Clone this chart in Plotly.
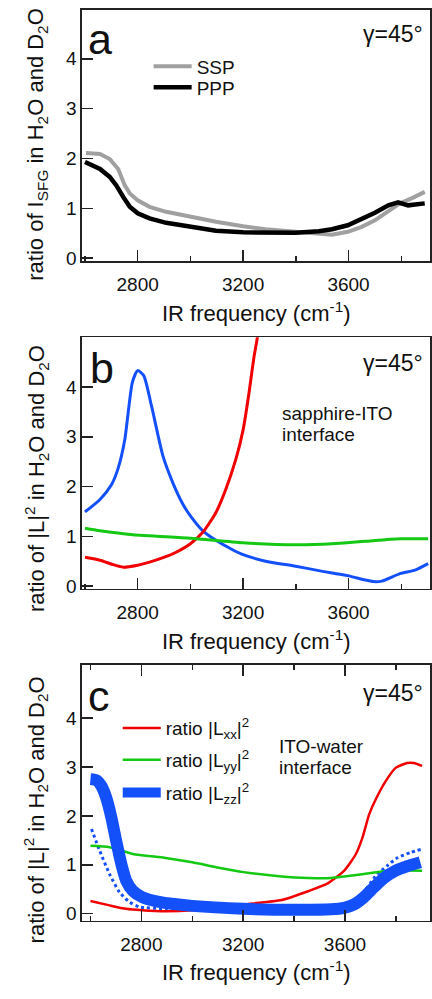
import plotly.graph_objects as go

# ---------------- data ----------------
# panel a: SFG intensity ratio
ssp_x = [2604, 2657, 2694, 2726, 2751, 2770, 2800, 2845, 2908, 3000, 3097, 3200, 3285, 3399, 3487, 3537, 3597, 3650, 3700, 3751, 3795, 3839, 3877, 3889]
ssp_y = [2.11, 2.09, 1.99, 1.79, 1.46, 1.30, 1.16, 1.03, 0.93, 0.83, 0.73, 0.64, 0.58, 0.53, 0.48, 0.47, 0.53, 0.63, 0.76, 0.93, 1.10, 1.20, 1.31, 1.33]
ppp_x = [2600, 2619, 2657, 2694, 2719, 2745, 2770, 2800, 2845, 2908, 3000, 3097, 3200, 3285, 3399, 3487, 3537, 3597, 3650, 3700, 3751, 3788, 3826, 3864, 3889]
ppp_y = [1.93, 1.89, 1.79, 1.63, 1.46, 1.23, 1.03, 0.90, 0.80, 0.71, 0.63, 0.55, 0.52, 0.51, 0.51, 0.54, 0.58, 0.66, 0.78, 0.91, 1.06, 1.12, 1.06, 1.08, 1.10]

# panel b: sapphire-ITO interface
b_blue_x = [2600, 2657, 2701, 2726, 2751, 2780, 2800, 2823, 2852, 2896, 2933, 2971, 3000, 3047, 3097, 3160, 3200, 3285, 3399, 3487, 3597, 3663, 3694, 3726, 3795, 3852, 3902]
b_blue_y = [1.49, 1.74, 2.04, 2.37, 2.94, 4.10, 4.33, 4.23, 3.63, 2.61, 2.08, 1.65, 1.41, 1.11, 0.92, 0.73, 0.63, 0.50, 0.40, 0.31, 0.21, 0.12, 0.09, 0.10, 0.25, 0.32, 0.45]
b_red_x = [2600, 2657, 2707, 2745, 2800, 2845, 2896, 2946, 3000, 3047, 3097, 3134, 3172, 3200, 3222, 3241, 3252, 3262]
b_red_y = [0.58, 0.52, 0.43, 0.38, 0.42, 0.48, 0.57, 0.68, 0.85, 1.08, 1.48, 1.94, 2.54, 3.14, 3.87, 4.60, 4.93, 5.30]
b_green_x = [2600, 2657, 2782, 3000, 3200, 3399, 3537, 3663, 3795, 3902]
b_green_y = [1.16, 1.11, 1.03, 0.96, 0.87, 0.83, 0.85, 0.90, 0.95, 0.95]

# panel c: ITO-water interface
c_red_x = [2600, 2675, 2740, 2803, 2896, 3000, 3201, 3351, 3455, 3532, 3597, 3643, 3669, 3695, 3721, 3760, 3799, 3844, 3870, 3903]
c_red_y = [0.26, 0.17, 0.10, 0.07, 0.05, 0.07, 0.19, 0.28, 0.46, 0.62, 0.88, 1.22, 1.56, 2.03, 2.34, 2.71, 2.98, 3.08, 3.08, 3.02]
c_green_x = [2600, 2675, 2766, 2896, 3000, 3104, 3201, 3351, 3455, 3545, 3597, 3675, 3753, 3799, 3903]
c_green_y = [1.39, 1.36, 1.22, 1.14, 1.05, 0.94, 0.85, 0.76, 0.73, 0.73, 0.76, 0.81, 0.87, 0.89, 0.88]
c_blue_x = [2600, 2623, 2643, 2662, 2682, 2701, 2721, 2740, 2766, 2803, 2870, 3000, 3201, 3403, 3545, 3597, 3636, 3675, 3714, 3753, 3799, 3844, 3896]
c_blue_y = [2.75, 2.73, 2.61, 2.37, 1.97, 1.49, 1.02, 0.68, 0.47, 0.34, 0.24, 0.16, 0.10, 0.08, 0.09, 0.12, 0.19, 0.34, 0.54, 0.73, 0.88, 0.97, 1.05]
c_dot_x = [2604, 2636, 2675, 2714, 2753, 2792, 2900, 3100, 3300, 3500, 3600, 3649, 3688, 3727, 3766, 3805, 3857, 3903]
c_dot_y = [1.73, 1.29, 0.81, 0.44, 0.24, 0.14, 0.10, 0.08, 0.07, 0.07, 0.10, 0.27, 0.54, 0.81, 0.98, 1.14, 1.25, 1.32]

x_tick_vals = [2800, 3200, 3600]
x_minor_vals = [2600, 3000, 3400, 3800]
y_tick_vals = [0, 1, 2, 3, 4]

# ---------------- figure ----------------
W, H = 432, 999
FONT = "Liberation Sans, Arial, sans-serif"
RED = "rgb(240,0,0)"
GREEN = "rgb(20,200,20)"
BLUE = "rgb(20,80,250)"

def px(x):
    return x / W

def py(y):
    return 1 - y / H

fig = go.Figure()

# panel a
fig.add_trace(go.Scatter(x=ssp_x, y=ssp_y, mode="lines", name="SSP", line=dict(color="rgb(160,160,160)", width=4),
                         xaxis="x", yaxis="y", legend="legend"))
fig.add_trace(go.Scatter(x=ppp_x, y=ppp_y, mode="lines", name="PPP", line=dict(color="black", width=4.5),
                         xaxis="x", yaxis="y", legend="legend3"))
# panel b
sp = dict(shape="spline", smoothing=0.6)
fig.add_trace(go.Scatter(x=b_blue_x, y=b_blue_y, mode="lines", line=dict(color=BLUE, width=3, **sp),
                         xaxis="x2", yaxis="y2", showlegend=False))
fig.add_trace(go.Scatter(x=b_red_x, y=b_red_y, mode="lines", line=dict(color=RED, width=3, **sp),
                         xaxis="x2", yaxis="y2", showlegend=False))
fig.add_trace(go.Scatter(x=b_green_x, y=b_green_y, mode="lines", line=dict(color=GREEN, width=3, **sp),
                         xaxis="x2", yaxis="y2", showlegend=False))
# panel c
fig.add_trace(go.Scatter(x=c_dot_x, y=c_dot_y, mode="lines", line=dict(color=BLUE, width=3, dash="dot", **sp),
                         xaxis="x3", yaxis="y3", showlegend=False))
fig.add_trace(go.Scatter(x=c_red_x, y=c_red_y, mode="lines", name="ratio |L<sub>xx</sub>|<sup>2</sup>",
                         line=dict(color=RED, width=2.5, **sp), xaxis="x3", yaxis="y3", legend="legend2"))
fig.add_trace(go.Scatter(x=c_green_x, y=c_green_y, mode="lines", name="ratio |L<sub>yy</sub>|<sup>2</sup>",
                         line=dict(color=GREEN, width=2.5, **sp), xaxis="x3", yaxis="y3", legend="legend4"))
fig.add_trace(go.Scatter(x=c_blue_x, y=c_blue_y, mode="lines", name="ratio |L<sub>zz</sub>|<sup>2</sup>",
                         line=dict(color=BLUE, width=12, **sp), xaxis="x3", yaxis="y3", legend="legend5"))

AX_COLOR = "#222"
def xaxis(rng, anchor, mirror):
    return dict(domain=[px(82), px(431)], range=rng, anchor=anchor,
                showline=True, linecolor=AX_COLOR, linewidth=1.5, mirror=mirror,
                ticks="inside", ticklen=11, tickwidth=1.5, tickcolor=AX_COLOR,
                tickvals=x_tick_vals, showgrid=False, zeroline=False,
                tickfont=dict(family=FONT, size=19, color="#111"), ticklabelstandoff=6,
                minor=dict(tickvals=x_minor_vals, ticks="inside", ticklen=5, tickwidth=1.5, tickcolor=AX_COLOR),
                fixedrange=True)

def yaxis(rng, dom, anchor):
    return dict(domain=dom, range=rng, anchor=anchor,
                showline=True, linecolor=AX_COLOR, linewidth=1.5, mirror=True,
                ticks="inside", ticklen=11, tickwidth=1.5, tickcolor=AX_COLOR,
                tickvals=y_tick_vals, showgrid=False, zeroline=False,
                tickfont=dict(family=FONT, size=19, color="#111"),
                fixedrange=True)

def leg(x, y):
    return dict(x=px(x), y=py(y), xanchor="left", yanchor="middle", bgcolor="rgba(0,0,0,0)",
                font=dict(family=FONT, size=19, color="#111"), tracegroupgap=0, itemwidth=38)

layout = dict(
    width=W, height=H, margin=dict(l=0, r=0, t=0, b=0),
    paper_bgcolor="white", plot_bgcolor="white",
    font=dict(family=FONT, size=19, color="#111"),
    xaxis=xaxis([2588, 3909], "y", True),
    yaxis=yaxis([-0.06, 4.98], [py(263.3), py(10)], "x"),
    xaxis2=xaxis([2588, 3909], "y2", True),
    yaxis2=yaxis([-0.05, 5.0], [py(593.3), py(340)], "x2"),
    xaxis3=xaxis([2566, 3934], "y3", "ticks"),
    yaxis3=yaxis([-0.14, 5.09], [py(928), py(670)], "x3"),
    legend=leg(149, 67),
    legend3=leg(149, 88),
    legend2=leg(118, 734),
    legend4=leg(118, 766),
    legend5=leg(118, 799),
    showlegend=True,
)
fig.update_layout(**layout)

ann = []
def text(x, y, s, size=19, xanchor="left", angle=0):
    ann.append(dict(x=px(x), y=py(y), xref="paper", yref="paper", text=s, showarrow=False,
                    xanchor=xanchor, yanchor="middle", textangle=angle,
                    font=dict(family=FONT, size=size, color="#111")))

# panel letters
text(86, 39, "a", 43)
text(88, 371, "b", 43)
text(86, 702, "c", 43)
# gamma labels
for yy in (34, 366, 699):
    text(426, yy, "γ=45°", 23, xanchor="right")
# in-panel notes
text(281, 417, "sapphire-ITO")
text(281, 438, "interface")
text(278, 753, "ITO-water")
text(278, 774, "interface")
# axis titles
for yy in (315, 645, 979):
    text(257.5, yy, "IR frequency (cm<sup>-1</sup>)", 22, xanchor="center")
text(37, 145, "ratio of I<sub>SFG</sub> in H<sub>2</sub>O and D<sub>2</sub>O", 22, xanchor="center", angle=-90)
text(36, 482, "ratio of |L|<sup>2</sup> in H<sub>2</sub>O and D<sub>2</sub>O", 22, xanchor="center", angle=-90)
text(36, 816, "ratio of |L|<sup>2</sup> in H<sub>2</sub>O and D<sub>2</sub>O", 22, xanchor="center", angle=-90)
fig.update_layout(annotations=ann)

fig.write_html("out.html", config={"displayModeBar": False, "staticPlot": True},
               post_script="document.body.style.margin='0';document.body.style.overflow='hidden';")
